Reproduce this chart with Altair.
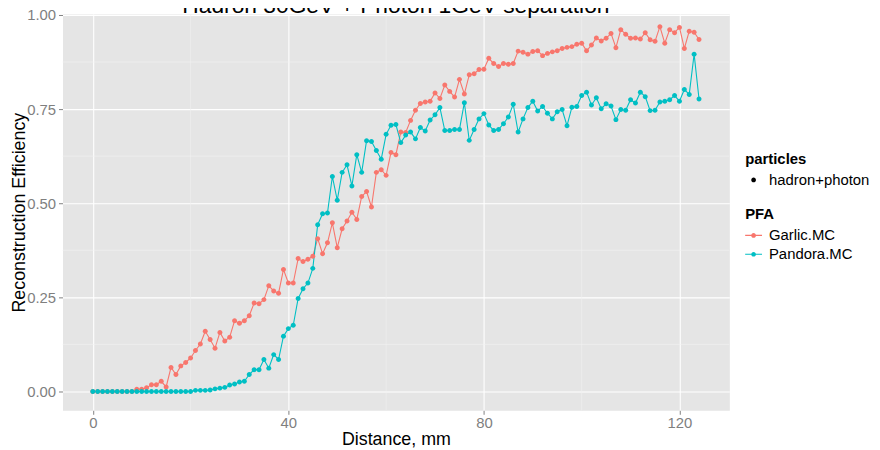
import altair as alt
import pandas as pd

TITLE = "Hadron 30GeV + Photon 1GeV separation"

distance = list(range(125))

garlic = [0, 0, 0, 0, 0, 0, 0, 0, 0, 0.006,
          0.006, 0.010, 0.018, 0.018, 0.027, 0.012, 0.064, 0.045, 0.068, 0.077,
          0.089, 0.109, 0.126, 0.160, 0.138, 0.115, 0.157, 0.134, 0.144, 0.188,
          0.181, 0.188, 0.201, 0.235, 0.233, 0.244, 0.281, 0.267, 0.261, 0.324,
          0.288, 0.288, 0.353, 0.345, 0.351, 0.359, 0.406, 0.366, 0.395, 0.448,
          0.382, 0.432, 0.453, 0.476, 0.457, 0.518, 0.531, 0.490, 0.582, 0.589,
          0.574, 0.635, 0.629, 0.689, 0.688, 0.720, 0.747, 0.765, 0.769, 0.771,
          0.793, 0.778, 0.814, 0.797, 0.782, 0.829, 0.790, 0.841, 0.844, 0.855,
          0.856, 0.885, 0.871, 0.863, 0.871, 0.869, 0.871, 0.904, 0.901, 0.896,
          0.903, 0.905, 0.892, 0.898, 0.902, 0.905, 0.911, 0.914, 0.916, 0.922,
          0.925, 0.905, 0.920, 0.939, 0.931, 0.938, 0.951, 0.913, 0.961, 0.949,
          0.938, 0.939, 0.936, 0.953, 0.934, 0.930, 0.969, 0.925, 0.961, 0.953,
          0.967, 0.911, 0.957, 0.954, 0.935]

pandora = [0, 0, 0, 0, 0, 0, 0, 0, 0, 0,
           0, 0, 0, 0, 0, 0, 0, 0, 0, 0,
           0, 0.003, 0.003, 0.003, 0.004, 0.007, 0.009, 0.011, 0.017, 0.020,
           0.025, 0.027, 0.045, 0.058, 0.058, 0.085, 0.062, 0.098, 0.085, 0.147,
           0.167, 0.176, 0.247, 0.273, 0.288, 0.327, 0.443, 0.472, 0.474, 0.571,
           0.508, 0.582, 0.602, 0.546, 0.629, 0.582, 0.666, 0.664, 0.640, 0.617,
           0.683, 0.707, 0.709, 0.661, 0.681, 0.689, 0.671, 0.701, 0.692, 0.721,
           0.735, 0.754, 0.693, 0.693, 0.696, 0.696, 0.767, 0.667, 0.696, 0.724,
           0.738, 0.708, 0.693, 0.696, 0.711, 0.729, 0.763, 0.689, 0.724, 0.754,
           0.771, 0.745, 0.757, 0.739, 0.724, 0.743, 0.749, 0.706, 0.755, 0.757,
           0.786, 0.795, 0.761, 0.780, 0.751, 0.764, 0.758, 0.722, 0.749, 0.747,
           0.775, 0.766, 0.795, 0.783, 0.746, 0.747, 0.769, 0.771, 0.775, 0.786,
           0.771, 0.802, 0.789, 0.896, 0.777]

pfa_names = ["Garlic.MC", "Pandora.MC"]
pfa_colors = ["#F8766D", "#00BFC4"]
particle_names = ["hadron+photon"]

x_major = [0, 40, 80, 120]
x_minor = [20, 60, 100]
y_major = [0, 0.25, 0.5, 0.75, 1.0]
y_minor = [0.125, 0.375, 0.625, 0.875]

df = pd.DataFrame({
    "Distance": distance + distance,
    "Efficiency": garlic + pandora,
    "PFA": [pfa_names[0]] * len(garlic) + [pfa_names[1]] * len(pandora),
    "particles": particle_names * (len(garlic) + len(pandora)),
})

FONT = "Liberation Sans"
W, H = 673, 400

DOT = "M-0.28,0A0.28,0.28 0 1,1 0.28,0A0.28,0.28 0 1,1 -0.28,0Z"
LINEDOT = ("M-1,-0.07L1,-0.07L1,0.07L-1,0.07Z"
           "M-0.28,0A0.28,0.28 0 1,1 0.28,0A0.28,0.28 0 1,1 -0.28,0Z")

xscale = alt.Scale(domain=[-6.2, 130.2], nice=False, zero=False)
yscale = alt.Scale(domain=[-0.05, 1.0026], nice=False, zero=False)
cscale = alt.Scale(domain=pfa_names, range=pfa_colors)

x_axis = alt.Axis(values=x_major, title="Distance, mm", grid=True,
                  gridColor="white", gridWidth=1.1, domain=False,
                  tickColor="#7F7F7F", tickSize=4, tickWidth=1,
                  labelColor="#7F7F7F", labelFontSize=15, labelFont=FONT,
                  labelPadding=1, labelFlush=False,
                  titleFont=FONT, titleFontSize=18, titleFontWeight="normal",
                  titleColor="black", titleBaseline="alphabetic",
                  titleY=34.5, titleX=W / 2, titleAlign="center")
y_axis = alt.Axis(values=y_major, format=".2f", title="Reconstruction Efficiency",
                  grid=True, gridColor="white", gridWidth=1.1, domain=False,
                  tickColor="#7F7F7F", tickSize=4, tickWidth=1,
                  labelColor="#7F7F7F", labelFontSize=15, labelFont=FONT,
                  labelPadding=3, labelFlush=False,
                  titleFont=FONT, titleFontSize=18, titleFontWeight="normal",
                  titleColor="black", titleAngle=270, titleBaseline="alphabetic",
                  titleX=-38, titleY=H / 2, titleAlign="center")

pfa_legend = alt.Legend(
    title="PFA", orient="none", legendX=689, legendY=195,
    direction="vertical", symbolType=LINEDOT, symbolSize=289,
    symbolStrokeWidth=0, symbolOpacity=1, labelOffset=7,
    titleFont=FONT, titleFontSize=15, titleFontWeight="bold",
    titleColor="black", titlePadding=5,
    labelFont=FONT, labelFontSize=15, labelColor="black")

particles_legend = alt.Legend(
    title="particles", orient="none", legendX=689, legendY=139,
    direction="vertical", symbolSize=289, symbolFillColor="black",
    symbolStrokeWidth=0, symbolOpacity=1, labelOffset=7,
    titleFont=FONT, titleFontSize=15, titleFontWeight="bold",
    titleColor="black", titlePadding=5,
    labelFont=FONT, labelFontSize=15, labelColor="black")

x_enc = alt.X("Distance:Q", scale=xscale, axis=x_axis)
y_enc = alt.Y("Efficiency:Q", scale=yscale, axis=y_axis)

base = alt.Chart(df)

lines = base.mark_line(strokeWidth=1.1).encode(
    x=x_enc, y=y_enc,
    color=alt.Color("PFA:N", scale=cscale, legend=pfa_legend),
)

points = base.mark_point(filled=True, size=317, opacity=1, strokeWidth=0).encode(
    x=x_enc, y=y_enc,
    color=alt.Color("PFA:N", scale=cscale, legend=pfa_legend),
    shape=alt.Shape("particles:N", scale=alt.Scale(range=[DOT]),
                    legend=particles_legend),
)

minor_x = alt.Chart(pd.DataFrame({"v": x_minor})).mark_rule(
    color="#F2F2F2", strokeWidth=0.6).encode(
    x=alt.X("v:Q", scale=xscale, axis=x_axis))
minor_y = alt.Chart(pd.DataFrame({"v": y_minor})).mark_rule(
    color="#F2F2F2", strokeWidth=0.6).encode(
    y=alt.Y("v:Q", scale=yscale, axis=y_axis))

title_layer = alt.Chart(pd.DataFrame({"t": [TITLE]})).mark_text(
    font=FONT, fontSize=23, color="black", align="center",
    baseline="alphabetic").encode(
    text="t:N", x=alt.value(W / 2), y=alt.value(-1))

chart = alt.layer(minor_x, minor_y, lines, points, title_layer).properties(
    width=W, height=H,
    padding={"left": 55, "top": 4, "right": 144, "bottom": 38},
    autosize=alt.AutoSizeParams(type="none"),
    background="white",
).configure_view(fill="#E5E5E5", stroke="transparent")

chart.save("out.html", embed_options={"renderer": "svg", "actions": False})
